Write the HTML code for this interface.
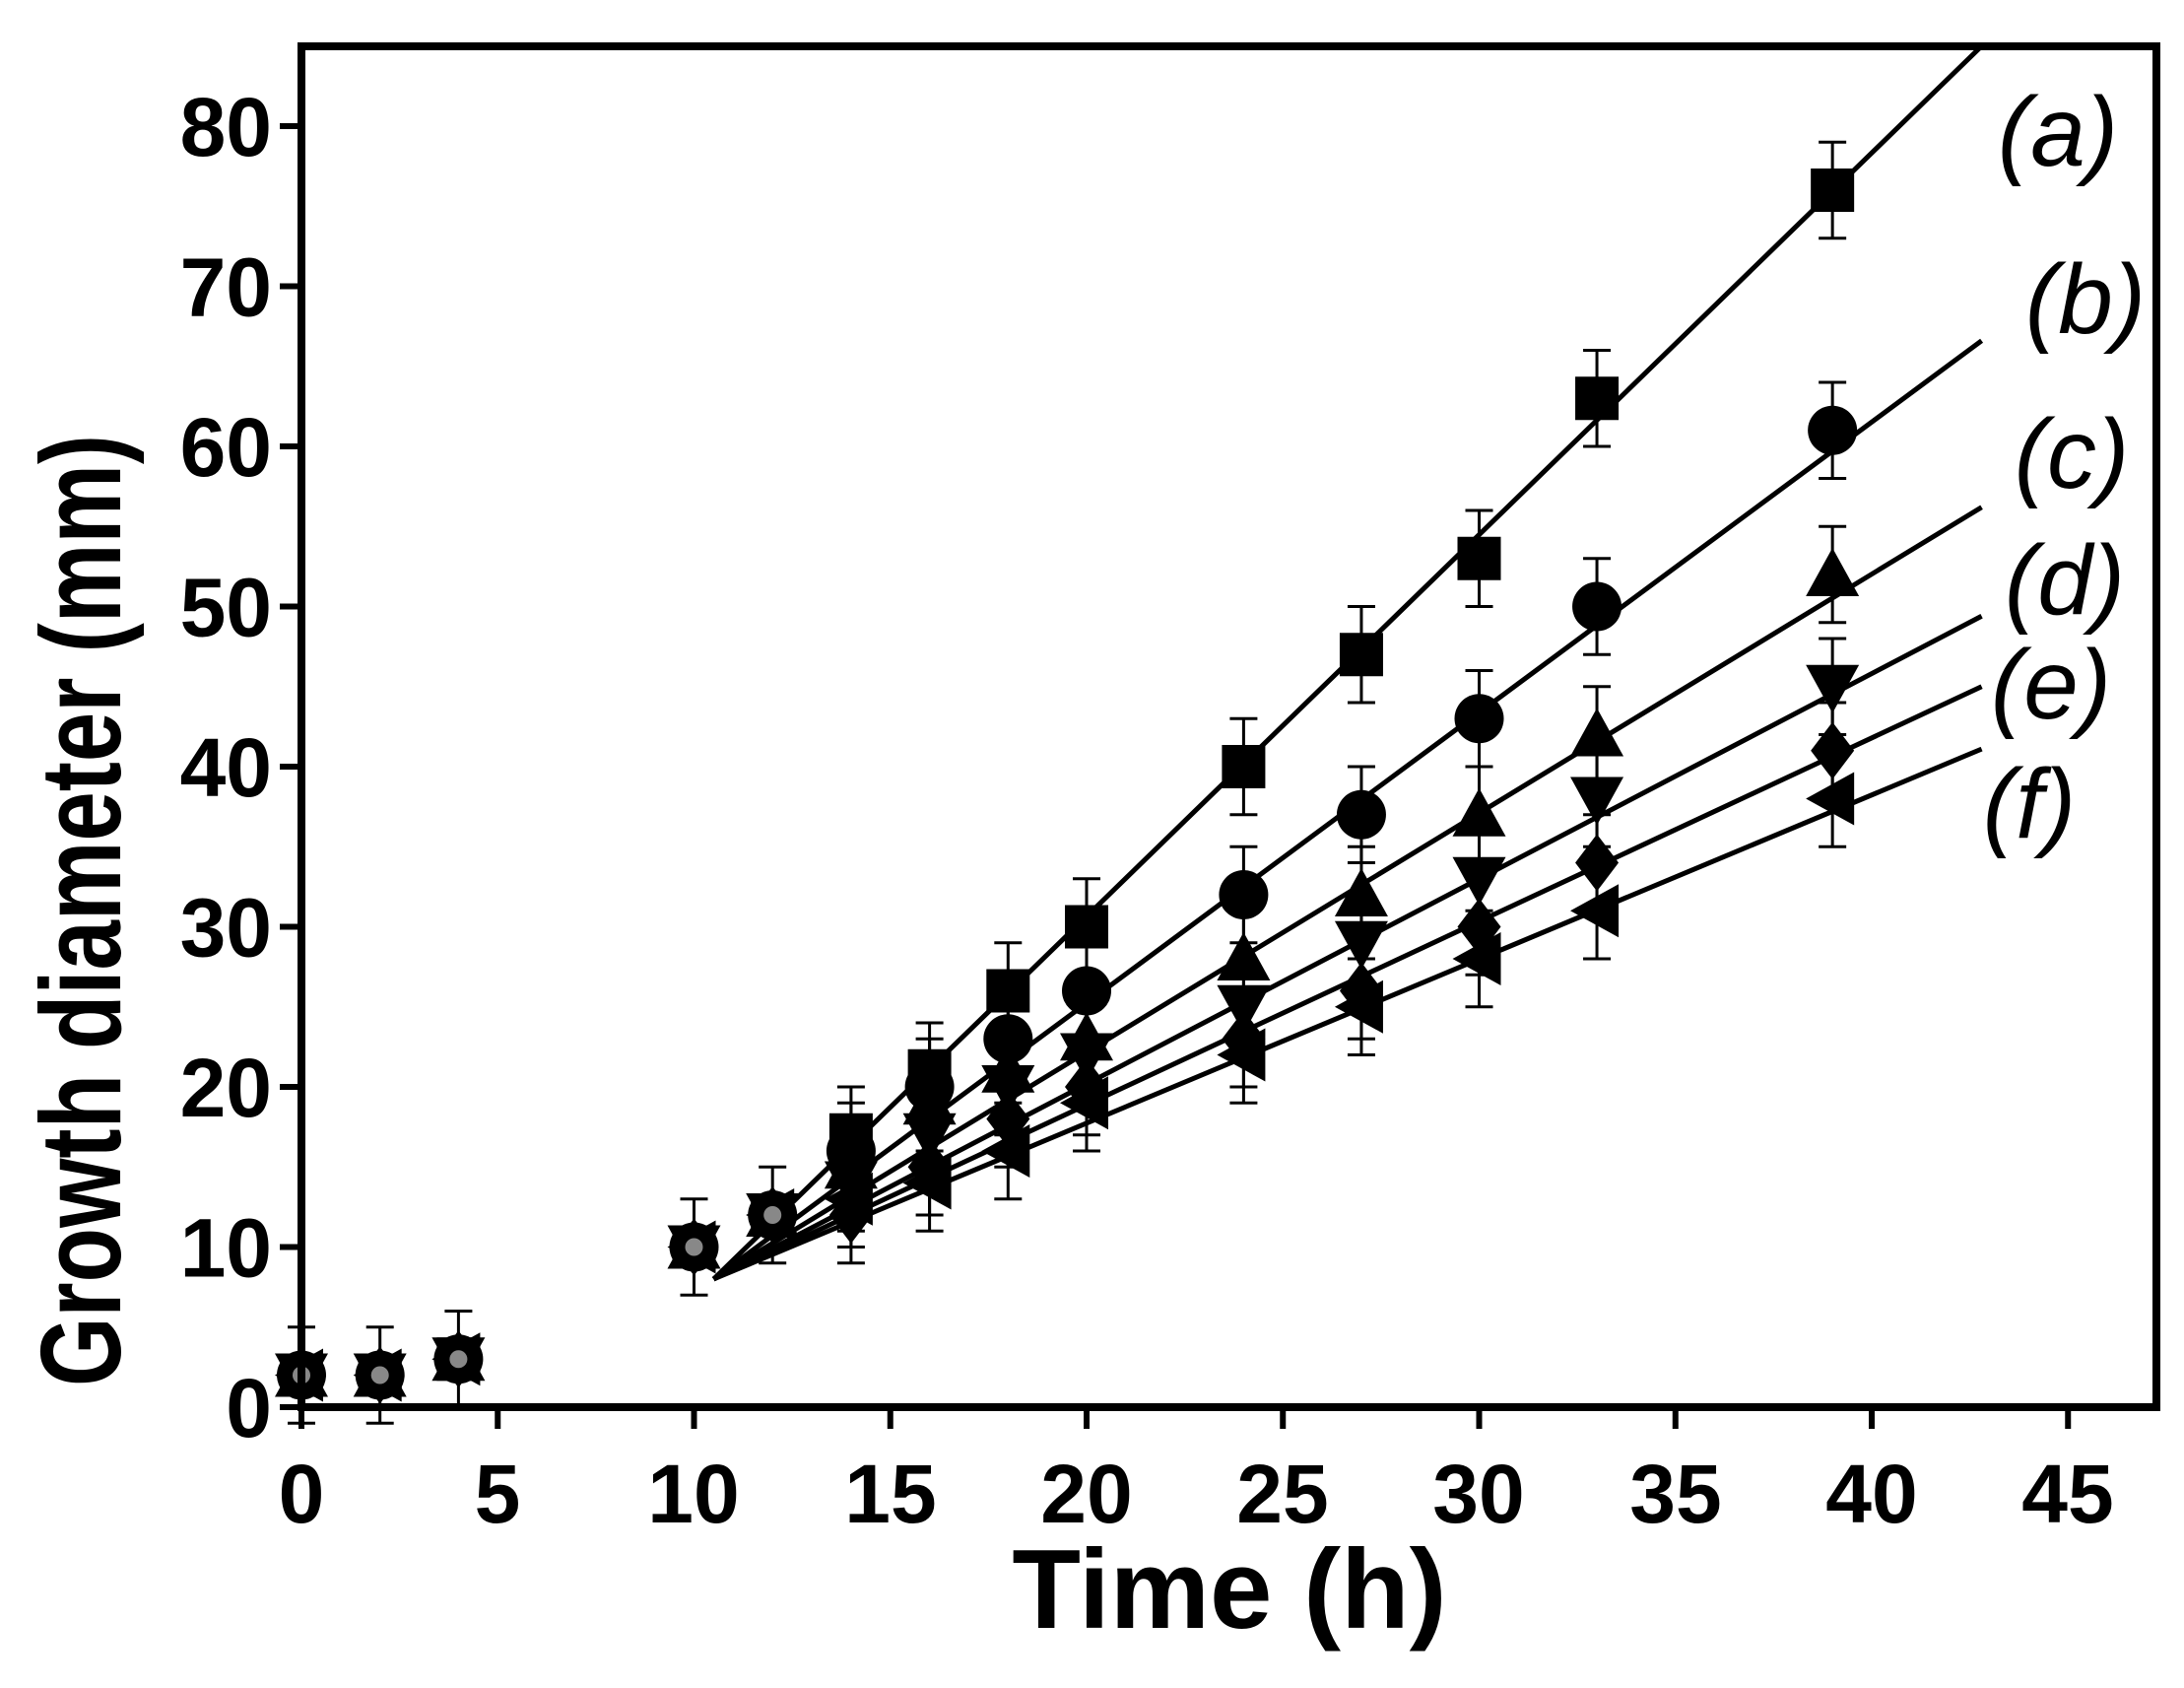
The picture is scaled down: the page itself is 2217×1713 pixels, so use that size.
<!DOCTYPE html>
<html><head><style>html,body{margin:0;padding:0;background:#fff;}svg{display:block;}</style></head>
<body>
<svg id="s" width="2217" height="1713" viewBox="0 0 2217 1713" xmlns="http://www.w3.org/2000/svg" font-family="Liberation Sans, Arial, sans-serif">
<rect width="2217" height="1713" fill="#fff"/>
<g id="data"></g>
<rect x="306" y="47" width="1883" height="1381" fill="none" stroke="#000" stroke-width="8"/>
<g stroke="#000" stroke-width="6" id="ticks"></g>
<g font-size="84" font-weight="bold" text-anchor="middle">
<text x="306" y="1545">0</text><text x="505" y="1545">5</text><text x="704" y="1545">10</text><text x="904" y="1545">15</text><text x="1103" y="1545">20</text><text x="1302" y="1545">25</text><text x="1501" y="1545">30</text><text x="1701" y="1545">35</text><text x="1900" y="1545">40</text><text x="2099" y="1545">45</text>
</g>
<g font-size="84" font-weight="bold" text-anchor="end" id="yl"></g>
<text x="1248" y="1652" font-size="114" font-weight="bold" text-anchor="middle">Time (h)</text>
<text transform="translate(122,924) rotate(-90)" font-size="116" font-weight="bold" text-anchor="middle" textLength="966" lengthAdjust="spacingAndGlyphs">Growth diameter (mm)</text>
<g font-size="100" font-style="italic" text-anchor="middle">
<text x="2089" y="168">(a)</text><text x="2117" y="338">(b)</text><text x="2103" y="495">(c)</text><text x="2096" y="623">(d)</text><text x="2082" y="729">(e)</text><text x="2060" y="850">(f)</text>
</g>
</svg>
<script>
var X=t=>306+t*39.85, Y=v=>1428-v*16.25, NS="http://www.w3.org/2000/svg";
var g=document.getElementById('data'), tk=document.getElementById('ticks'), yl=document.getElementById('yl');
function el(n,a,p){var e=document.createElementNS(NS,n);for(var k in a)e.setAttribute(k,a[k]);(p||g).appendChild(e);return e;}
for(var t=0;t<=45;t+=5)el('line',{x1:X(t),y1:1428,x2:X(t),y2:1450},tk);
for(var v=0;v<=80;v+=10){el('line',{x1:284,y1:Y(v),x2:306,y2:Y(v)},tk);var tx=el('text',{x:276,y:Y(v)+30},yl);tx.textContent=v;}
var lines=[[8,85],[8,66.6],[8,56.2],[8,49.4],[8,45],[8,41.1]];
lines.forEach(l=>el('line',{x1:X(10.5),y1:Y(l[0]),x2:X(42.8),y2:Y(l[1]),stroke:'#000','stroke-width':5}));
var ts=[14,16,18,20,24,27,30,33,39];
var d=[[17,21,26,30,40,47,53,63,76],[16,20,23,26,32,37,43,50,61],[15,19,21,23,28,32,37,42,52],[14,17,20,22,25,29,33,38,45],[12,15,18,20,23,26,30,34,41],[13,14,16,19,22,25,28,31,38]];
function eb(t,v){var x=X(t);el('path',{d:`M${x-14},${Y(v+3)}H${x+14}M${x},${Y(v+3)}V${Y(v-3)}M${x-14},${Y(v-3)}H${x+14}`,stroke:'#000','stroke-width':3,fill:'none'});}
function mk(s,t,v){var x=X(t),y=Y(v),r=22;
 if(s==0)el('rect',{x:x-r,y:y-r,width:2*r,height:2*r});
 if(s==1)el('circle',{cx:x,cy:y,r:r+3});
 if(s==2)el('polygon',{points:`${x},${y-r-5} ${x+r+5},${y+r} ${x-r-5},${y+r}`});
 if(s==3)el('polygon',{points:`${x},${y+r+5} ${x+r+5},${y-r} ${x-r-5},${y-r}`});
 if(s==4)el('polygon',{points:`${x},${y-r-7} ${x+r},${y} ${x},${y+r+7} ${x-r},${y}`});
 if(s==5)el('polygon',{points:`${x-r-5},${y} ${x+r},${y-r-5} ${x+r},${y+r+5}`});}
[[0,2],[2,2],[4,3],[10,10],[12,12]].forEach(p=>{eb(p[0],p[1]);for(var s=0;s<6;s++)mk(s,p[0],p[1]);el('circle',{cx:X(p[0]),cy:Y(p[1]),r:9,fill:'#888'});});
d.forEach((row,s)=>row.forEach((v,i)=>{eb(ts[i],v);mk(s,ts[i],v);}));
</script>
</body></html>
